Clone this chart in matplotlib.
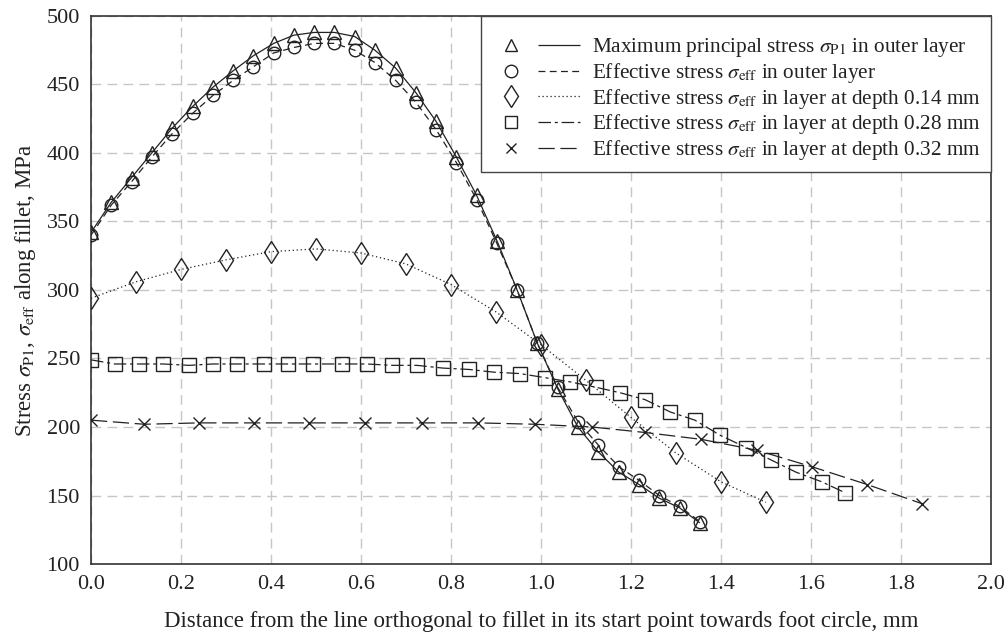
import numpy as np
import matplotlib
matplotlib.use("Agg")
import matplotlib.pyplot as plt
from matplotlib.lines import Line2D
from matplotlib.legend_handler import HandlerTuple

plt.rcParams['font.family'] = ['Liberation Serif', 'DejaVu Serif']
plt.rcParams['mathtext.fontset'] = 'stix'

INK = "#222222"
GRID = "#c6c6c6"

# maximum principal stress, outer layer (triangles) and effective stress, outer layer (circles)
x_outer = [0.000, 0.045, 0.090, 0.135, 0.180, 0.226, 0.271, 0.316, 0.361, 0.406,
           0.451, 0.496, 0.541, 0.586, 0.631, 0.677, 0.722, 0.767, 0.812, 0.857,
           0.902, 0.947, 0.992, 1.037, 1.082, 1.127, 1.173, 1.218, 1.263, 1.308, 1.353]
s_p1_outer = [342, 364, 382, 400, 418, 434, 448, 460, 471, 480,
              486, 488, 488, 485, 475, 462, 444, 423, 397, 369,
              336, 300, 261, 228, 200, 182, 167, 158, 148, 141, 130]
s_eff_outer = [340, 362, 379, 397, 414, 429, 442, 453, 463, 473,
               477, 480, 480, 475, 466, 453, 437, 417, 393, 366,
               334, 300, 261, 229, 204, 187, 171, 161, 150, 142, 131]

# effective stress at depth 0.14 mm (diamonds)
x_d014 = [0.0, 0.1, 0.2, 0.3, 0.4, 0.5, 0.6, 0.7, 0.8, 0.9, 1.0, 1.1, 1.2, 1.3, 1.4, 1.5]
s_d014 = [294, 306, 315, 322, 328, 330, 327, 319, 304, 284, 260, 234, 207, 181, 160, 145]

# effective stress at depth 0.28 mm (squares)
x_d028 = [0.000, 0.053, 0.107, 0.160, 0.218, 0.271, 0.324, 0.384, 0.438, 0.493,
          0.558, 0.613, 0.669, 0.724, 0.782, 0.840, 0.896, 0.953, 1.009, 1.064,
          1.122, 1.176, 1.231, 1.287, 1.342, 1.398, 1.456, 1.511, 1.567, 1.624, 1.676]
s_d028 = [249, 246, 246, 246, 245, 246, 246, 246, 246, 246,
          246, 246, 245, 245, 243, 242, 240, 239, 236, 233,
          229, 225, 220, 211, 205, 194, 185, 176, 167, 160, 152]

# effective stress at depth 0.32 mm (crosses)
x_d032 = [0.000, 0.118, 0.240, 0.362, 0.484, 0.609, 0.736, 0.860, 0.987, 1.113,
          1.231, 1.356, 1.480, 1.602, 1.725, 1.847]
s_d032 = [205, 202, 203, 203, 203, 203, 203, 203, 202, 200,
          196, 191, 183, 171, 158, 144]

labels = [
    r'Maximum principal stress $\sigma_{\mathrm{P1}}$ in outer layer',
    r'Effective stress $\sigma_{\mathrm{eff}}$ in outer layer',
    r'Effective stress $\sigma_{\mathrm{eff}}$ in layer at depth 0.14 mm',
    r'Effective stress $\sigma_{\mathrm{eff}}$ in layer at depth 0.28 mm',
    r'Effective stress $\sigma_{\mathrm{eff}}$ in layer at depth 0.32 mm',
]

# marker, size in plot, size in legend, line style
series = [
    (x_outer, s_p1_outer, '^', 10.5, 9, (0, ())),
    (x_outer, s_eff_outer, 'o', 9, 9, (0, (5.5, 3.5))),
    (x_d014, s_d014, 'd', 11.5, 11.5, (0, (1, 2.2))),
    (x_d028, s_d028, 's', 9.5, 9, (0, (10, 3, 2.5, 3))),
    (x_d032, s_d032, 'x', 9, 7, (0, (13, 4.5))),
]

fig = plt.figure(figsize=(10.08, 6.34), dpi=100)
ax = fig.add_axes([0.0903, 0.1104, 0.8928, 0.8644])

handles = []
for (xs, ys, mk, ms, ms_leg, ls), lab in zip(series, labels):
    ax.plot(xs, ys, color=INK, linewidth=0.9, linestyle=ls,
            marker=mk, markersize=ms, markerfacecolor='none',
            markeredgecolor=INK, markeredgewidth=1.0, zorder=3)
    h_marker = Line2D([], [], color=INK, linestyle='none', marker=mk, markersize=ms_leg,
                      markerfacecolor='none', markeredgewidth=1.0)
    h_line = Line2D([], [], color=INK, linewidth=0.9, linestyle=ls)
    handles.append((h_marker, h_line))

ax.set_xlim(0, 2.0)
ax.set_ylim(100, 500)
ax.set_xticks(np.arange(0, 2.01, 0.2))
ax.set_yticks(np.arange(100, 501, 50))
ax.set_xticklabels([f"{v:.1f}" for v in np.arange(0, 2.01, 0.2)])
ax.tick_params(length=0, labelsize=16, colors=INK, pad=8)
ax.grid(True, color=GRID, linestyle=(0, (7, 4.5)), linewidth=1.0)
ax.set_axisbelow(True)
for sp in ax.spines.values():
    sp.set_color("#333333")
    sp.set_linewidth(1.2)

ax.set_xlabel('Distance from the line orthogonal to fillet in its start point towards foot circle, mm',
              fontsize=16.5, color=INK, labelpad=12)
ax.set_ylabel(r'Stress $\sigma_{\mathrm{P1}}$, $\sigma_{\mathrm{eff}}$ along fillet, MPa',
              fontsize=16.5, color=INK, labelpad=6)

# blank title just adds a little headroom above the first row
leg = ax.legend(handles, labels, loc='upper right', borderaxespad=0,
                handler_map={tuple: HandlerTuple(ndivide=None, pad=0.3)},
                handlelength=4.2, handletextpad=0.6, fontsize=15.3,
                labelspacing=0.08, fancybox=False, framealpha=1,
                edgecolor="#444444", borderpad=0.45,
                title=' ', title_fontsize=7)
leg.get_frame().set_linewidth(1.0)
for t in leg.get_texts():
    t.set_color(INK)

fig.savefig("out.png", dpi=100)
